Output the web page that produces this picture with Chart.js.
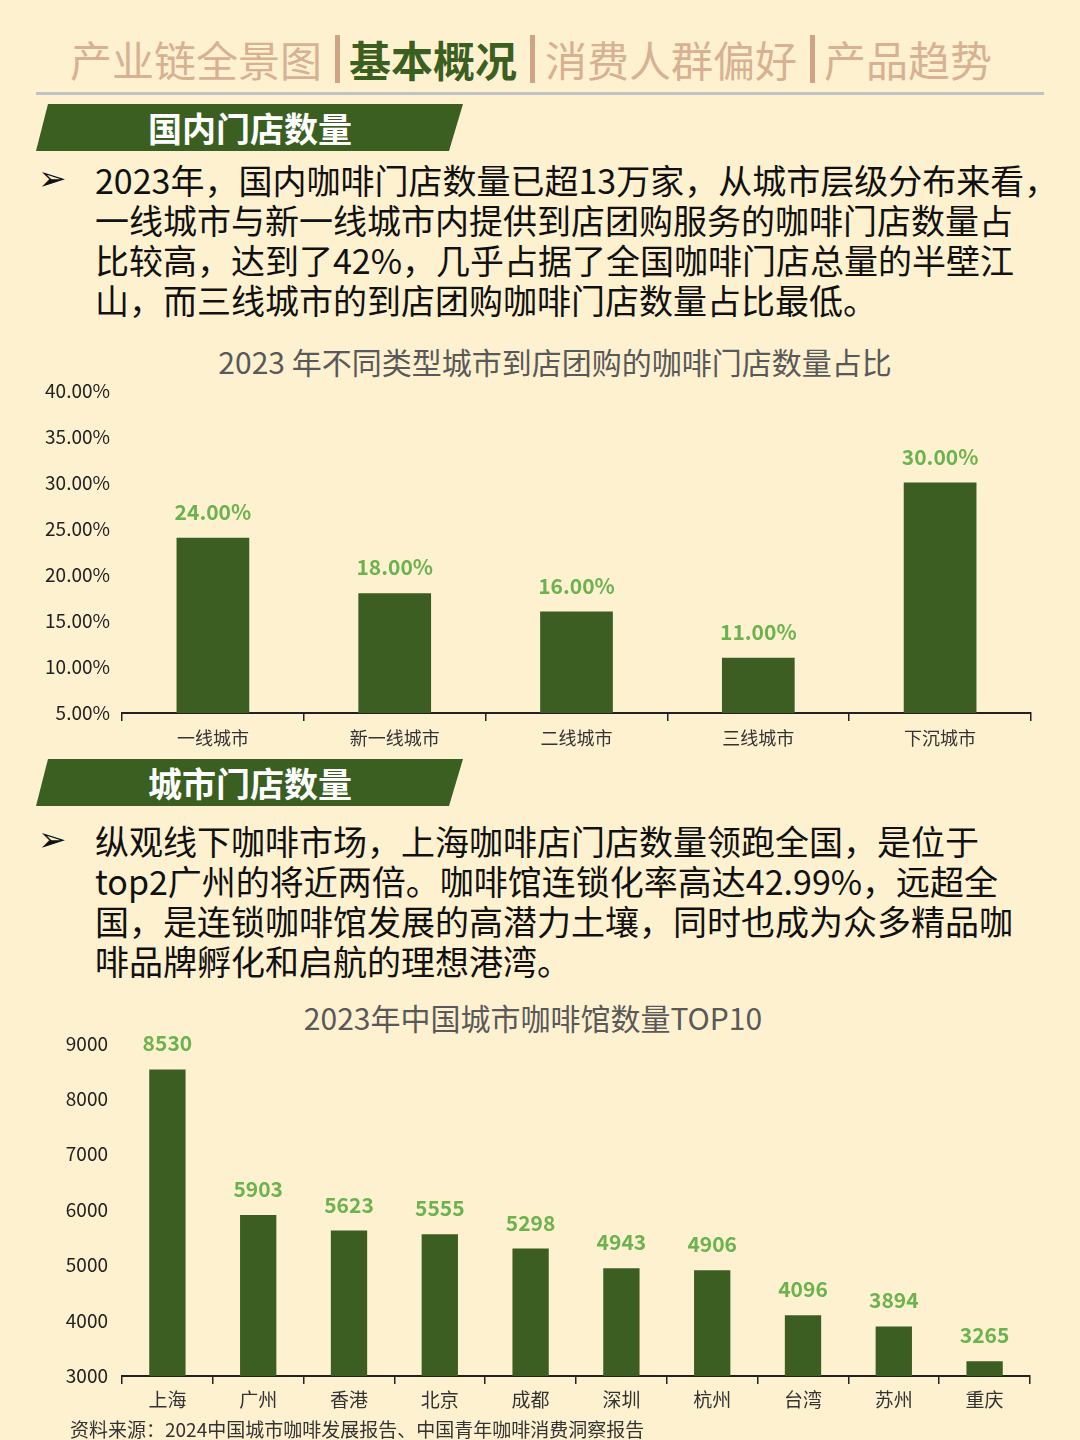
<!DOCTYPE html>
<html>
<head>
<meta charset="utf-8">
<script src="https://cdn.jsdelivr.net/npm/chart.js@4.4.1/dist/chart.umd.min.js"></script>
<style>
  html, body { margin: 0; padding: 0; }
  body {
    width: 1080px; height: 1440px; position: relative; overflow: hidden;
    background: #fef1d0;
    font-family: "Noto Sans CJK SC", "Noto Sans", sans-serif;
  }
  .abs { position: absolute; white-space: nowrap; }
  .tab { font-size: 42px; line-height: 50px; top: 34px; color: #d8b193; }
  .tab.on { color: #3b5e21; font-weight: 700; }
  .sep { width: 5px; height: 48px; top: 35px; background: #cfa383; }
  .rule { left: 36px; top: 92px; width: 1008px; height: 3px; background: #c0c3c3; }
  .banner {
    left: 36px; width: 427px; height: 47px; background: #3b5e21;
    clip-path: polygon(12px 0, 427px 0, 413px 47px, 0 47px);
  }
  .banner span {
    position: absolute; left: 112px; top: 0; line-height: 47px;
    color: #fff; font-size: 34px; font-weight: 700;
  }
  .bullet { left: 38px; font-family: "DejaVu Sans"; font-size: 34px; font-weight: 700; color: #111; }
  .para { left: 95px; font-size: 34px; line-height: 40px; color: #111; }
  .title { font-size: 30px; color: #595959; transform: translateX(-50%); }
  .source { left: 70px; top: 1415px; font-size: 19px; color: #333; }
  canvas { position: absolute; left: 0; }
</style>
</head>
<body>
<div class="abs tab" style="left:70px">产业链全景图</div>
<div class="abs sep" style="left:335px"></div>
<div class="abs tab on" style="left:349px">基本概况</div>
<div class="abs sep" style="left:530px"></div>
<div class="abs tab" style="left:545px">消费人群偏好</div>
<div class="abs sep" style="left:810px"></div>
<div class="abs tab" style="left:824px">产品趋势</div>
<div class="abs rule"></div>

<div class="abs banner" style="top:104px"><span>国内门店数量</span></div>
<div class="abs bullet" style="top:158px">➢</div>
<div class="abs para" style="top:160px">
  <div>2023年，国内咖啡门店数量已超13万家，从城市层级分布来看，</div>
  <div>一线城市与新一线城市内提供到店团购服务的咖啡门店数量占</div>
  <div>比较高，达到了42%，几乎占据了全国咖啡门店总量的半壁江</div>
  <div>山，而三线城市的到店团购咖啡门店数量占比最低。</div>
</div>
<div class="abs title" style="left:555px;top:339px">2023 年不同类型城市到店团购的咖啡门店数量占比</div>
<canvas id="chart1" width="1080" height="395" style="top:367px;width:1080px;height:395px"></canvas>

<div class="abs banner" style="top:759px"><span>城市门店数量</span></div>
<div class="abs bullet" style="top:819px">➢</div>
<div class="abs para" style="top:821px">
  <div>纵观线下咖啡市场，上海咖啡店门店数量领跑全国，是位于</div>
  <div>top2广州的将近两倍。咖啡馆连锁化率高达42.99%，远超全</div>
  <div>国，是连锁咖啡馆发展的高潜力土壤，同时也成为众多精品咖</div>
  <div>啡品牌孵化和启航的理想港湾。</div>
</div>
<div class="abs title" style="left:533px;top:995px">2023年中国城市咖啡馆数量TOP10</div>
<canvas id="chart2" width="1080" height="402" style="top:1018px;width:1080px;height:402px"></canvas>
<div class="abs source">资料来源：2024中国城市咖啡发展报告、中国青年咖啡消费洞察报告</div>

<script>
// chart 1: share of coffee shops offering in-store group buying, by city tier
const tierLabels = ["一线城市", "新一线城市", "二线城市", "三线城市", "下沉城市"];
const tierShare = [24, 18, 16, 11, 30];

// chart 2: top 10 cities by number of coffee shops
const cityLabels = ["上海", "广州", "香港", "北京", "成都", "深圳", "杭州", "台湾", "苏州", "重庆"];
const cityShops = [8530, 5903, 5623, 5555, 5298, 4943, 4906, 4096, 3894, 3265];

const barGreen = "#3d5e22";
const labelGreen = "#6cb24f";
const fontFamily = '"Noto Sans CJK SC", "Noto Sans", sans-serif';

const valueLabels = {
  id: "valueLabels",
  afterDatasetsDraw(chart, args, opts) {
    const ctx = chart.ctx;
    const meta = chart.getDatasetMeta(0);
    const data = chart.data.datasets[0].data;
    ctx.save();
    ctx.fillStyle = labelGreen;
    ctx.font = "bold " + opts.size + "px " + fontFamily;
    ctx.textAlign = "center";
    ctx.textBaseline = "middle";
    meta.data.forEach((bar, i) => {
      ctx.fillText(opts.format(data[i]), bar.x, bar.y - 26);
    });
    ctx.restore();
  },
};

function makeChart(id, labels, values, cfg) {
  return new Chart(document.getElementById(id), {
    type: "bar",
    data: {
      labels: labels,
      datasets: [{
        data: values,
        backgroundColor: barGreen,
        barPercentage: 0.4,
        categoryPercentage: 1,
      }],
    },
    options: {
      responsive: false,
      animation: false,
      layout: { padding: { top: 0, right: cfg.right, left: 0, bottom: 0 } },
      plugins: {
        legend: { display: false },
        tooltip: { enabled: false },
        valueLabels: { size: 21, format: cfg.format },
      },
      scales: {
        x: {
          afterFit: (s) => { s.height = cfg.xHeight; },
          border: { display: true, color: "#222", width: 2 },
          grid: {
            display: true, drawOnChartArea: false, drawTicks: true,
            tickLength: 8, color: "#222", lineWidth: 1.5, offset: true,
          },
          ticks: { color: "#333", padding: cfg.xPad, font: { family: fontFamily, size: cfg.xSize } },
        },
        y: {
          min: cfg.min, max: cfg.max,
          afterFit: (s) => { s.width = 122; },
          border: { display: false },
          grid: { display: false, drawTicks: false },
          ticks: {
            stepSize: cfg.step, color: "#222", padding: cfg.yPad,
            font: { family: fontFamily, size: 19 },
            callback: cfg.tick,
          },
        },
      },
    },
    plugins: [valueLabels],
  });
}

makeChart("chart1", tierLabels, tierShare, {
  right: 49, xHeight: 49, xPad: 6, xSize: 18, yPad: 12,
  min: 5, max: 40, step: 5,
  tick: (v) => v.toFixed(2) + "%",
  format: (v) => v.toFixed(2) + "%",
});

makeChart("chart2", cityLabels, cityShops, {
  right: 50, xHeight: 44, xPad: 4, xSize: 19, yPad: 14,
  min: 3000, max: 9000, step: 1000,
  tick: (v) => String(v),
  format: (v) => String(v),
});
</script>
</body>
</html>
